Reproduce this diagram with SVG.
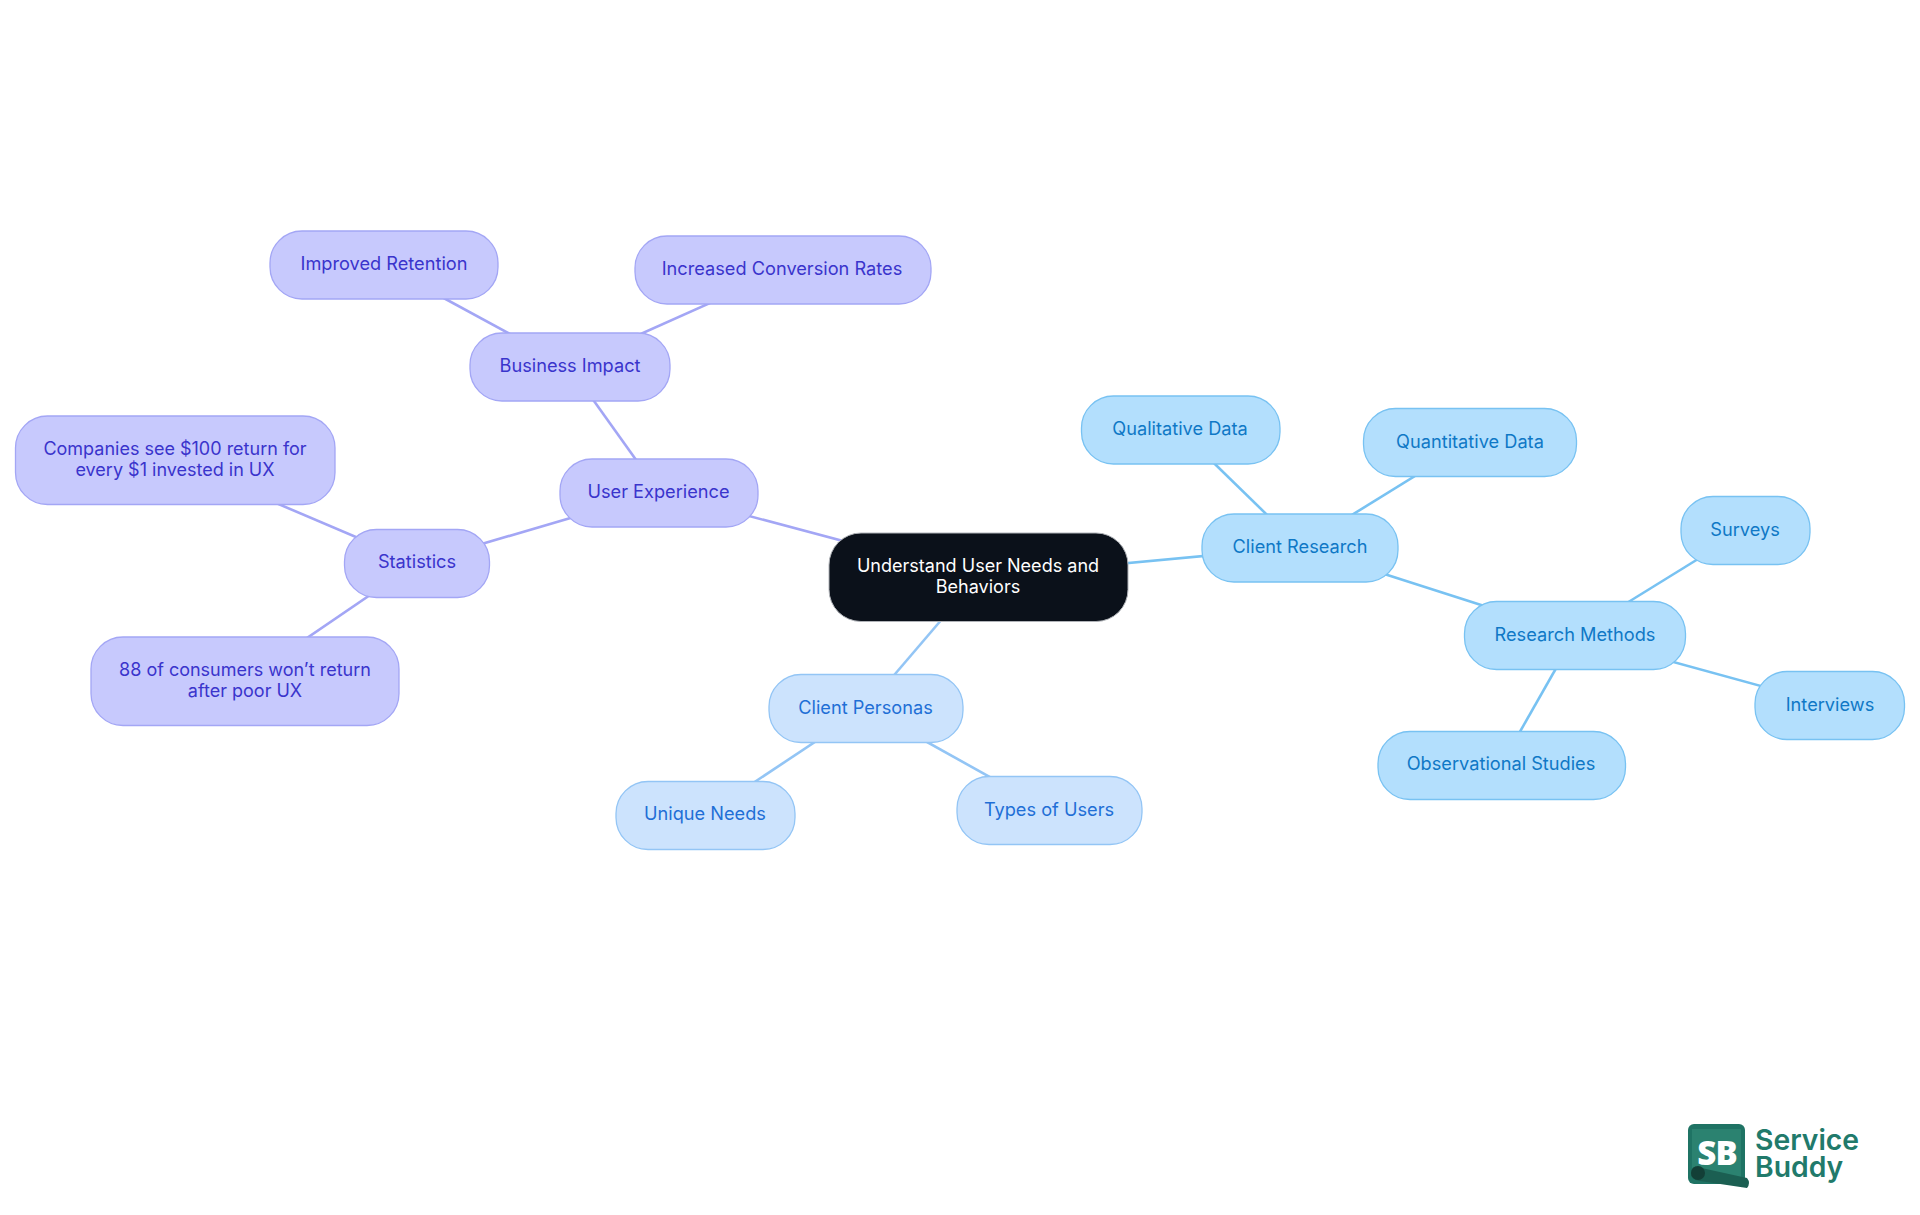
<svg xmlns="http://www.w3.org/2000/svg" width="1920" height="1215" viewBox="0 0 1920 1215">
<style>
text{font-family:"Inter","Noto Sans",sans-serif;font-size:18.2px;text-anchor:middle}
rect.n{rx:32px}
.p rect{fill:#c7c9fd;stroke:#a3a6f5;stroke-width:1.3}.p text{fill:#3a34cc}
.b rect{fill:#cce3fd;stroke:#93c5f5;stroke-width:1.3}.b text{fill:#1f6fd6}
.c rect{fill:#b3dffd;stroke:#78c2f2;stroke-width:1.3}.c text{fill:#0f78c6}
.k rect{fill:#0b111a;stroke:#b0b3b8;stroke-width:1}.k text{fill:#fff;font-size:18.05px}
.w text{font-size:18px}
#connectors line{stroke-width:2.6;fill:none}
.lp{stroke:#a3a6f5}.lb{stroke:#93c5f5}.lc{stroke:#78c2f2}
.brand{font-family:Inter,sans-serif;font-weight:600;font-size:28.3px;fill:#217a6b;text-anchor:start}
</style>
<g id="connectors">
<line class="lp" x1="978" y1="577" x2="659" y2="492"/>
<line class="lp" x1="659" y1="492" x2="417" y2="563"/>
<line class="lp" x1="659" y1="492" x2="569" y2="366"/>
<line class="lp" x1="569" y1="366" x2="381" y2="264"/>
<line class="lp" x1="569" y1="366" x2="784" y2="270"/>
<line class="lp" x1="417" y1="563" x2="175" y2="460"/>
<line class="lp" x1="417" y1="563" x2="244" y2="681"/>
<line class="lb" x1="978" y1="577" x2="866" y2="708"/>
<line class="lb" x1="866" y1="708" x2="705" y2="815"/>
<line class="lb" x1="866" y1="708" x2="1049" y2="810"/>
<line class="lc" x1="978" y1="577" x2="1300" y2="547"/>
<line class="lc" x1="1300" y1="547" x2="1180" y2="430"/>
<line class="lc" x1="1300" y1="547" x2="1470" y2="442"/>
<line class="lc" x1="1300" y1="547" x2="1575" y2="635"/>
<line class="lc" x1="1575" y1="635" x2="1745" y2="530"/>
<line class="lc" x1="1575" y1="635" x2="1830" y2="705"/>
<line class="lc" x1="1575" y1="635" x2="1501" y2="765"/>
</g>
<g id="center" class="k"><rect class="n" x="829" y="533" width="299" height="88.500"/><text x="978" y="571.500">Understand User Needs and</text><text x="978" y="592.500">Behaviors</text></g>
<g id="user-experience" class="p"><rect class="n" x="560" y="459" width="198" height="68"/><text x="658.500" y="498">User Experience</text></g>
<g id="business-impact" class="p"><rect class="n" x="470" y="333" width="200" height="68"/><text x="570" y="372">Business Impact</text></g>
<g id="improved-retention" class="p"><rect class="n" x="270" y="231" width="228" height="68"/><text x="384" y="270">Improved Retention</text></g>
<g id="increased-conversion" class="p"><rect class="n" x="635" y="236" width="296" height="68"/><text x="782" y="275">Increased Conversion Rates</text></g>
<g id="statistics" class="p"><rect class="n" x="344.500" y="529.500" width="145" height="68"/><text x="417" y="567.500">Statistics</text></g>
<g id="stat-return" class="p w"><rect class="n" x="15.500" y="416" width="319.500" height="88.500"/><text x="175" y="454.500">Companies see $100 return for</text><text x="175" y="475.500">every $1 invested in UX</text></g>
<g id="stat-consumers" class="p w"><rect class="n" x="91" y="637" width="308" height="88.500"/><text x="245" y="675.500">88 of consumers won’t return</text><text x="245" y="696.500">after poor UX</text></g>
<g id="client-personas" class="b"><rect class="n" x="769" y="674.500" width="194" height="68"/><text x="865.500" y="713.500">Client Personas</text></g>
<g id="unique-needs" class="b"><rect class="n" x="616" y="781.500" width="179" height="68"/><text x="705" y="819.500">Unique Needs</text></g>
<g id="types-of-users" class="b"><rect class="n" x="957" y="776.500" width="185" height="68"/><text x="1049" y="815.500">Types of Users</text></g>
<g id="client-research" class="c"><rect class="n" x="1202" y="514" width="196" height="68"/><text x="1300" y="553">Client Research</text></g>
<g id="qualitative" class="c"><rect class="n" x="1081.500" y="396" width="198.500" height="68"/><text x="1180" y="435">Qualitative Data</text></g>
<g id="quantitative" class="c"><rect class="n" x="1363.500" y="408.500" width="213" height="68"/><text x="1470" y="447.500">Quantitative Data</text></g>
<g id="research-methods" class="c"><rect class="n" x="1464.500" y="601.500" width="221" height="68"/><text x="1575" y="640.500">Research Methods</text></g>
<g id="surveys" class="c"><rect class="n" x="1681" y="496.500" width="129" height="68"/><text x="1745" y="535.500">Surveys</text></g>
<g id="interviews" class="c"><rect class="n" x="1755" y="671.500" width="149.500" height="68"/><text x="1830" y="710.500">Interviews</text></g>
<g id="observational" class="c"><rect class="n" x="1378" y="731.500" width="247.500" height="68"/><text x="1501" y="769.500">Observational Studies</text></g>
<g id="logo">
<rect x="1688" y="1124" width="57" height="60" rx="6" fill="#1f7364"/>
<rect x="1692" y="1129" width="49" height="49" fill="#2b8270"/>
<text x="1717" y="1165" style="font-family:'Open Sans',sans-serif;font-weight:800;font-size:33px;fill:#fff;letter-spacing:-1px">SB</text>
<path d="M1697 1167L1747 1178Q1751 1183 1747 1188L1700 1181Q1690 1180 1691 1172Q1692 1166 1697 1167Z" fill="#1b5f52"/>
<ellipse cx="1698" cy="1173" rx="7" ry="7" fill="#133f37"/>
<text class="brand" y="1150"><tspan x="1755" y="1150">Service</tspan><tspan x="1755" y="1177">Buddy</tspan></text>
</g>
</svg>
